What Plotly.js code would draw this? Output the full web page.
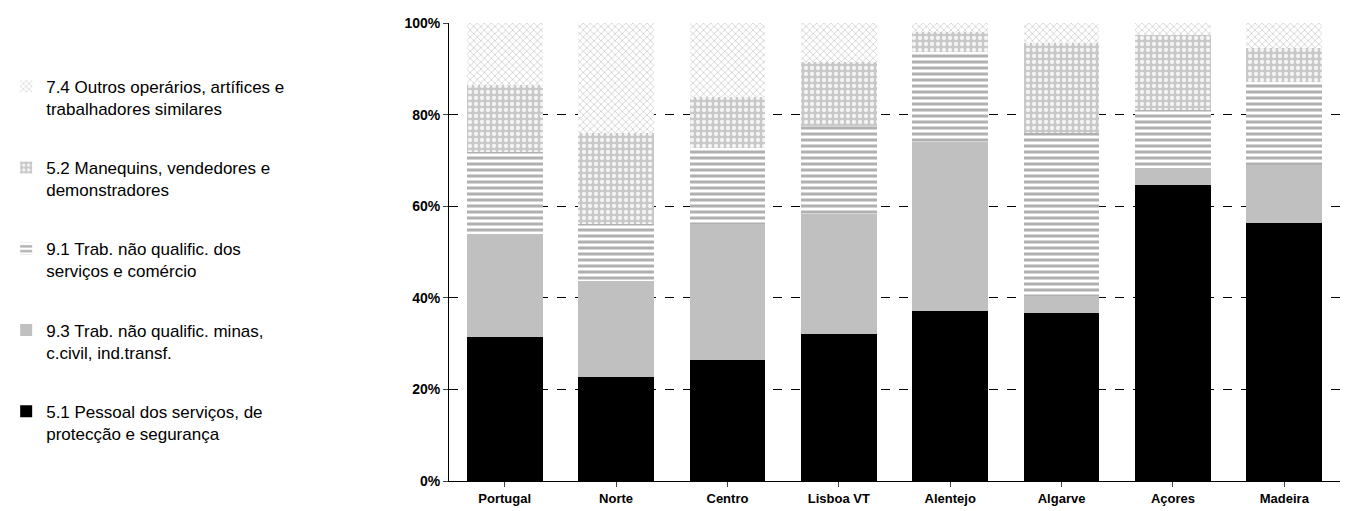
<!DOCTYPE html>
<html><head><meta charset="utf-8"><script src="https://cdn.plot.ly/plotly-3.0.1.min.js"></script></head>
<body style="margin:0">
<div id="c" style="width:1346px;height:511px"></div>
<script>
const regions = ["Portugal","Norte","Centro","Lisboa VT","Alentejo","Algarve","Açores","Madeira"];
const s51 = [31.5,22.8,26.5,32.2,37.2,36.6,64.6,56.3];
const s93 = [22.5,20.8,29.6,26.2,36.8,3.9,3.7,12.7];
const s91 = [17.9,12.5,16.5,19.1,19.6,35.4,12.6,18.2];
const s52 = [14.6,19.8,11.3,14.0,4.5,19.8,16.5,7.4];
const s74 = [13.5,24.1,16.1,8.5,1.9,4.3,2.6,5.4];
const names = ["5.1 Pessoal dos serviços, de<br>protecção e segurança",
 "9.3 Trab. não qualific. minas,<br>c.civil, ind.transf.",
 "9.1 Trab. não qualific. dos<br>serviços e comércio",
 "5.2 Manequins, vendedores e<br>demonstradores",
 "7.4 Outros operários, artífices e<br>trabalhadores similares"];
const vals=[s51,s93,s91,s52,s74];
const markers=[
 {color:"#000000"},
 {color:"#c0c0c0"},
 {color:"#ffffff",pattern:{shape:"-",fgcolor:"#b0b0b0",bgcolor:"#ffffff",size:6,solidity:0.5}},
 {color:"#d8d8d8",pattern:{shape:".",fgcolor:"#f4f4f4",bgcolor:"#c8c8c8",size:6,solidity:0.4}},
 {color:"#ffffff",pattern:{shape:"x",fgcolor:"#d0d0d0",bgcolor:"#ffffff",size:5,solidity:0.3}}
];
const data=vals.map((v,i)=>({type:"bar",x:regions,y:v,name:names[i],marker:markers[i],legendgroup:"g"+i,legendrank:1000-i}));
Plotly.newPlot("c",data,{
 width:1346,height:511,barmode:"stack",bargap:0.32,
 margin:{l:447,r:6,t:23,b:30},
 paper_bgcolor:"#fff",plot_bgcolor:"#fff",
 font:{family:"Liberation Sans, Arial",color:"#000"},
 xaxis:{showline:true,linecolor:"#000",ticks:"outside",tickfont:{size:13,weight:"bold"},ticklen:5},
 yaxis:{range:[0,100],dtick:20,ticksuffix:"%",showline:true,linecolor:"#000",ticks:"outside",ticklen:5,
   gridcolor:"#000",griddash:"dash",gridwidth:1,tickfont:{size:14,weight:"bold"},zeroline:false},
 legend:{x:-0.497,xanchor:"left",y:0.9,yanchor:"top",traceorder:"grouped",tracegroupgap:34,font:{size:17},itemwidth:30,valign:"top"}
},{displayModeBar:false});
</script></body></html>
